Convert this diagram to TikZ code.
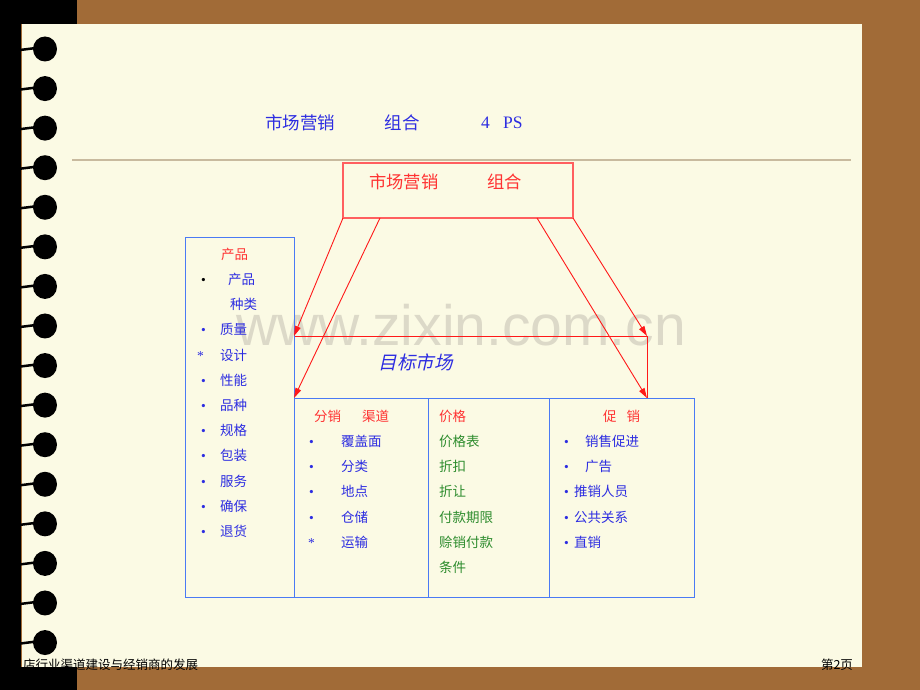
\documentclass[tikz,border=0pt]{standalone}
\usepackage{fontspec}
\setmainfont{Liberation Serif}
\newfontfamily\cjk{Noto Sans CJK SC}
\newfontfamily\cjkslant[FakeSlant=0.22]{Noto Sans CJK SC}
\newfontfamily\wmfont{Liberation Sans}
\usepackage{xcolor}
\usepackage{tikz}
\usetikzlibrary{positioning, calc, arrows.meta}
\definecolor{pagebrown}{RGB}{161,107,55}
\definecolor{pagecream}{RGB}{251,250,228}
\definecolor{ruletan}{RGB}{200,186,158}
\definecolor{boxblue}{RGB}{74,122,244}
\definecolor{boxred}{RGB}{255,95,95}
\definecolor{txtblue}{RGB}{45,45,225}
\definecolor{hdred}{RGB}{255,50,50}
\definecolor{arrred}{RGB}{255,25,25}
\definecolor{txtgreen}{RGB}{45,140,45}
\definecolor{wmgrey}{RGB}{220,217,200}
\newcommand{\mybullet}{{\rmfamily •}}
\newcommand{\myitem}[3]{\hspace*{#1}\makebox[#2][l]{\mybullet}#3}
\newcommand{\mystar}[3]{\hspace*{#1}\makebox[#2][l]{\rmfamily *}#3}

\begin{document}
\begin{tikzpicture}[x=1pt, y=-1pt, node distance = 11.3pt and 0pt,
  entry/.style={inner sep=0pt, text width=110pt, align=left, text height=11pt, text depth=2.5pt,
    font=\cjk\fontsize{13.5}{14}\selectfont, text=txtblue},
  head/.style={entry, text=hdred},
  greenentry/.style={entry, text=txtgreen},
  titletext/.style={inner sep=0pt, font=\cjk\fontsize{17.5}{18}\selectfont, text=txtblue},
  panel/.style={draw=boxblue, line width=1pt, inner sep=0pt, outer sep=0pt},
  flow/.style={draw=arrred, line width=0.9pt, -{Triangle[length=10pt, width=6pt]}}]
\useasboundingbox (0,0) rectangle (920,690);

% page and rings
\fill[pagebrown] (0,0) rectangle (920,690);
\fill[pagecream] (22,24) rectangle (862,667);
\fill[black] (0,0) rectangle (21,690);
\fill[black] (0,0) rectangle (77,24);
\fill[black] (0,667) rectangle (77,690);
\draw[pagebrown, line width=1pt] (21.5,24) -- (21.5,130);
\foreach \i in {0,...,15} {
  \fill[black] (45,{49+39.57*\i}) ellipse [x radius=12, y radius=12.5];
  \draw[black, line width=2.5pt] (20,{50+39.57*\i}) -- (36,{48+39.57*\i});
}

\node[font=\wmfont\fontsize{57}{57}\selectfont, text=wmgrey, anchor=base west, inner sep=0pt] (wm) at (236,345) {www.zixin.com.cn};

% title
\node[titletext, anchor=west] (ttl1) at (265,123) {市场营销};
\node[titletext, right=49pt of ttl1] (ttl2) {组合};
\node[titletext, font=\rmfamily\fontsize{17.5}{18}\selectfont, right=61pt of ttl2] (ttl3) {4};
\node[titletext, font=\rmfamily\fontsize{17.5}{18}\selectfont, right=13pt of ttl3] (ttl4) {PS};
\draw[ruletan, line width=1.5pt] (72,160) -- (851,160);

% marketing mix box and target market
\node[draw=boxred, line width=1.2pt, minimum width=230pt, minimum height=55pt, inner sep=0pt, outer sep=0pt] (mix) at (458,190.5) {};
\node[inner sep=0pt, font=\cjk\fontsize{17.3}{18}\selectfont, text=hdred] (mixtxt) at (445.5,182) {市场营销\hspace{49pt}组合};
\node[draw=arrred, line width=1pt, minimum width=353pt, minimum height=62pt, inner sep=0pt, outer sep=0pt, anchor=south west] (target) at (294,398) {};
\node[inner sep=0pt, font=\cjkslant\fontsize{18.5}{19}\selectfont, text=txtblue] (tgttxt) at (415.5,362) {目标市场};

% the four P boxes
\node[panel, minimum width=109pt, minimum height=360pt, anchor=north west] (prod) at (185,237) {};
\node[panel, minimum width=134pt, minimum height=199pt, anchor=south west] (place) at (prod.south east) {};
\node[panel, minimum width=121pt, minimum height=199pt, right=0pt of place] (price) {};
\node[panel, minimum width=145pt, minimum height=199pt, right=0pt of price] (promo) {};

\coordinate[right=37pt of mix.south west] (mixl);
\coordinate[left=36pt of mix.south east] (mixr);
\draw[flow] (mix.south west) -- (target.north west);
\draw[flow] (mixl) -- (target.south west);
\draw[flow] (mixr) -- (target.south east);
\draw[flow] (mix.south east) -- (target.north east);

% product
\node[head, anchor=west] (prd0) at (197,255) {\hspace*{24pt}产品};
\node[entry, below=of prd0] (prd1) {\hspace*{4pt}\makebox[27pt][l]{\textcolor{black}{\mybullet}}产品};
\node[entry, below=of prd1] (prd2) {\hspace*{33pt}种类};
\node[entry, below=of prd2] (prd3) {\myitem{4pt}{19pt}{质量}};
\node[entry, below=of prd3] (prd4) {\mystar{0pt}{23pt}{设计}};
\node[entry, below=of prd4] (prd5) {\myitem{4pt}{19pt}{性能}};
\node[entry, below=of prd5] (prd6) {\myitem{4pt}{19pt}{品种}};
\node[entry, below=of prd6] (prd7) {\myitem{4pt}{19pt}{规格}};
\node[entry, below=of prd7] (prd8) {\myitem{4pt}{19pt}{包装}};
\node[entry, below=of prd8] (prd9) {\myitem{4pt}{19pt}{服务}};
\node[entry, below=of prd9] (prd10) {\myitem{4pt}{19pt}{确保}};
\node[entry, below=of prd10] (prd11) {\myitem{4pt}{19pt}{退货}};

% place
\node[head, anchor=west] (plc0) at (305,417) {\hspace*{9pt}分销\hspace{21pt}渠道};
\node[entry, below=of plc0] (plc1) {\myitem{4pt}{32pt}{覆盖面}};
\node[entry, below=of plc1] (plc2) {\myitem{4pt}{32pt}{分类}};
\node[entry, below=of plc2] (plc3) {\myitem{4pt}{32pt}{地点}};
\node[entry, below=of plc3] (plc4) {\myitem{4pt}{32pt}{仓储}};
\node[entry, below=of plc4] (plc5) {\mystar{3pt}{33pt}{运输}};

% price
\node[head, anchor=west] (prc0) at (439,417) {价格};
\node[greenentry, below=of prc0] (prc1) {价格表};
\node[greenentry, below=of prc1] (prc2) {折扣};
\node[greenentry, below=of prc2] (prc3) {折让};
\node[greenentry, below=of prc3] (prc4) {付款期限};
\node[greenentry, below=of prc4] (prc5) {赊销付款};
\node[greenentry, below=of prc5] (prc6) {条件};

% promotion
\node[head, anchor=west] (prm0) at (560,417) {\hspace*{43pt}促\hspace{10pt}销};
\node[entry, below=of prm0] (prm1) {\myitem{4pt}{21pt}{销售促进}};
\node[entry, below=of prm1] (prm2) {\myitem{4pt}{21pt}{广告}};
\node[entry, below=of prm2] (prm3) {\myitem{4pt}{10pt}{推销人员}};
\node[entry, below=of prm3] (prm4) {\myitem{4pt}{10pt}{公共关系}};
\node[entry, below=of prm4] (prm5) {\myitem{4pt}{10pt}{直销}};

% footer
\node[font=\cjk\fontsize{12.5}{13}\selectfont, inner sep=0pt, anchor=west] (foot) at (23,665) {店行业渠道建设与经销商的发展};
\node[font=\cjk\fontsize{12.5}{13}\selectfont, inner sep=0pt] (pgno) at (837,665) {第2页};
\end{tikzpicture}
\end{document}
